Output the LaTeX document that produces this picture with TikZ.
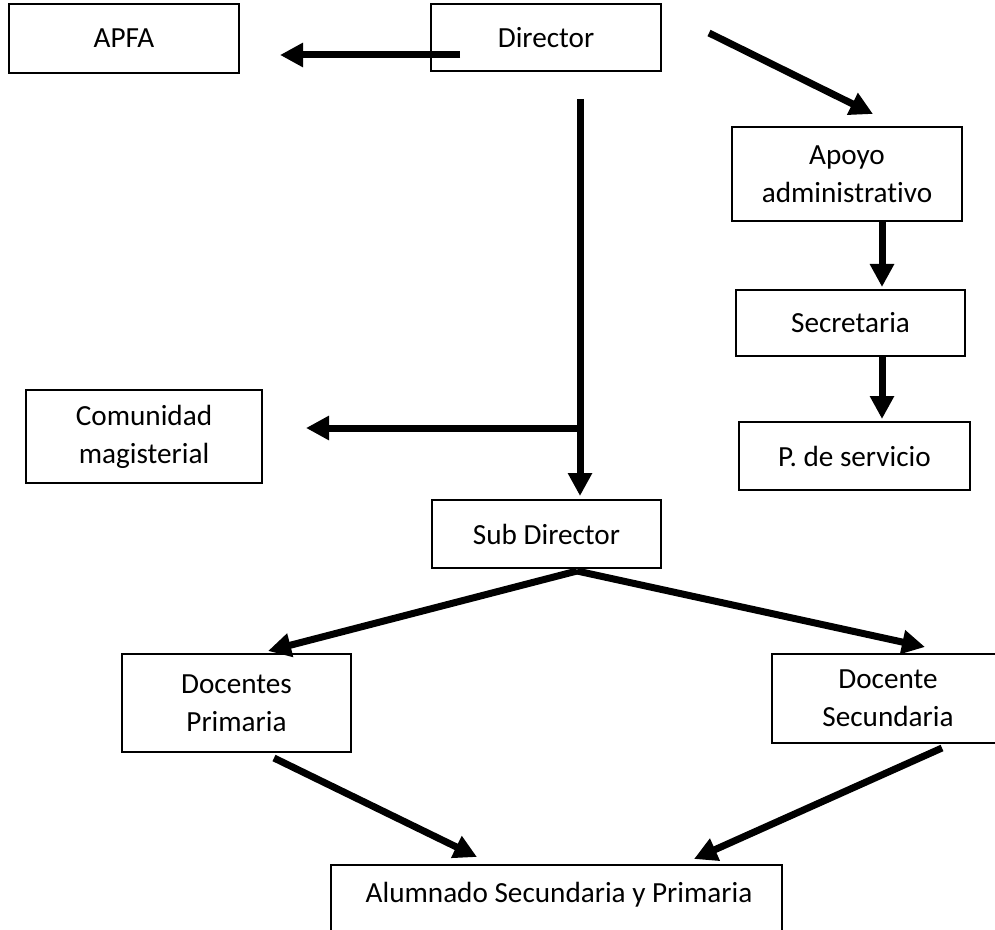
\documentclass[tikz,border=0pt]{standalone}
\usepackage{fontspec}
\setmainfont{Carlito}[Ligatures=NoCommon]
\usetikzlibrary{arrows.meta, calc}

\begin{document}
\begin{tikzpicture}[x=0.5pt, y=-0.5pt,
    orgbox/.style={draw, line width=1pt, inner sep=2pt, align=center,
                   font=\fontsize{14.6}{19}\selectfont},
    flow/.style={-{Triangle[length=11.5pt, width=11.5pt]}, line width=3.5pt}]
  \useasboundingbox (0,0) rectangle (995,930);

  % Top row
  \node[orgbox, minimum width=115pt, minimum height=34.5pt] (apfa) at (124,38.5) {APFA};
  \node[orgbox, minimum width=115pt, minimum height=33.5pt] (dir) at (546,37.5) {Director};

  % Administrative branch (right)
  \node[orgbox, minimum width=115pt, minimum height=47pt] (apoyo) at (847,174)
    {Apoyo\\administrativo};
  \node[orgbox, minimum width=114.5pt, minimum height=33pt] (secr) at (850.5,323) {Secretaria};
  \node[orgbox, minimum width=115.5pt, minimum height=34pt] (serv) at (854.5,456) {P. de servicio};

  % Middle
  \node[orgbox, minimum width=118pt, minimum height=46.5pt] (com) at (144,436.5)
    {Comunidad\\magisterial};
  \node[orgbox, minimum width=114.5pt, minimum height=34pt] (sub) at (546.5,534) {Sub Director};

  % Teachers
  \node[orgbox, minimum width=114.5pt, minimum height=49pt] (prim) at (236.5,703)
    {Docentes\\Primaria};
  \node[orgbox, minimum width=116pt, minimum height=44.5pt] (sec) at (888,698.5)
    {Docente\\Secundaria};

  % Students (box runs past the bottom edge)
  \node[orgbox, minimum width=225.5pt, minimum height=50pt, anchor=north] (alum) at (556.5,864) {};
  \node[font=\fontsize{14.6}{19}\selectfont] (alumtxt) at (559,895)
    {Alumnado Secundaria y Primaria};

  % Connectors
  \coordinate (junc) at (580,428);
  \draw[flow] ($(dir.west)+(30,17.5)$) -- ($(apfa.east)+(40,16.5)$);
  \draw[flow] ($(dir.east)+(47,-4.5)$) -- ($(apoyo.north)+(26,-12)$);
  \draw[flow] ($(apoyo.south)+(35,0)$) -- ($(secr.north)+(31.5,-2)$);
  \draw[flow] ($(secr.south)+(31.5,0)$) -- ($(serv.north)+(27.5,-2)$);
  \draw[flow] ($(dir.south)+(34,27)$) -- ($(sub.north)+(33.5,-3)$);
  \draw[flow] (junc) -- ($(com.east)+(43,-8.5)$);
  \draw[flow] ($(sub.south)+(30.5,2)$) -- ($(prim.north)+(31.5,-2)$);
  \draw[flow] ($(sub.south)+(30.5,2)$) -- ($(sec.north)+(37,-6)$);
  \draw[flow] ($(prim.south)+(37.5,5)$) -- ($(alum.north)+(-79.5,-7)$);
  \draw[flow] ($(sec.south)+(54,4)$) -- ($(alum.north)+(137.5,-5)$);
\end{tikzpicture}
\end{document}
